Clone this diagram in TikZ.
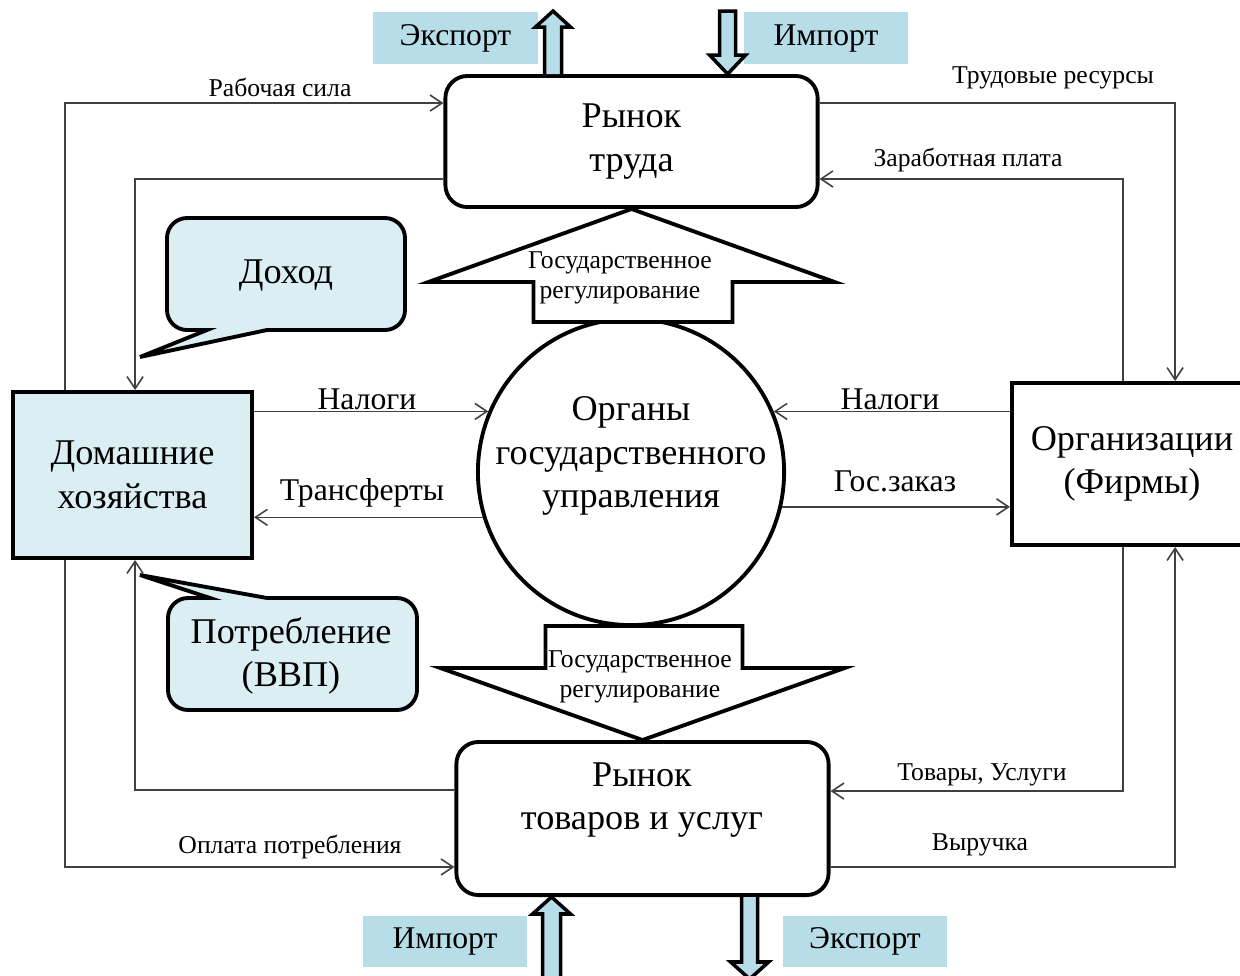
\documentclass[tikz,border=0pt]{standalone}
\usepackage{fontspec}
\setmainfont{Liberation Serif}
\usepackage{xcolor}
\definecolor{hhblue}{HTML}{DAEEF3}
\definecolor{expblue}{HTML}{B7DEE8}
\definecolor{flowgray}{HTML}{404040}
\usepackage{tikz}
\usetikzlibrary{arrows.meta}
\newcommand\bigtxt{\fontsize{10.3}{12.4}\selectfont}
\newcommand\midtxt{\fontsize{9}{10.8}\selectfont}
\newcommand\smalltxt{\fontsize{7.3}{8.5}\selectfont}

\begin{document}
\begin{tikzpicture}[x=0.01cm,y=-0.01cm,line width=1.1pt,
    bigt/.style={font=\bigtxt,align=center,inner sep=0pt},
    midt/.style={font=\midtxt,inner sep=0pt},
    smallt/.style={font=\smalltxt,inner sep=0pt},
    govt/.style={font=\smalltxt,align=center,inner sep=0pt},
    hhbox/.style={draw,fill=hhblue,minimum width=2.39cm,minimum height=1.66cm,bigt},
    firmbox/.style={draw,fill=white,minimum width=2.4cm,minimum height=1.62cm,bigt},
    market/.style={draw,fill=white,rounded corners=0.22cm,minimum width=3.72cm,bigt},
    govcirc/.style={draw,fill=white,circle,minimum size=3.06cm,inner sep=0pt},
    trade/.style={fill=expblue,minimum width=1.64cm,minimum height=0.51cm,midt},
    bigarrow/.style={draw,fill=expblue,line width=1pt},
    govarrow/.style={draw,fill=white},
    callout/.style={draw,fill=hhblue},
    flow/.style={draw=flowgray,line width=0.45pt,-{Straight Barb[length=1.2mm,width=1.6mm]}}]
  \useasboundingbox (0,0) rectangle (1240,975);

  \node[hhbox](hh) at (132.5,475) {Домашние\\хозяйства};
  \node[firmbox](firm) at (1132,464) {Организации\\(Фирмы)};
  \node[market,minimum height=1.31cm](lab) at (631.5,141.5) {Рынок\\труда};
  \node[market,minimum height=1.53cm](gm) at (642.5,818.5) {};
  \node[bigt](gmtxt) at (642,800) {Рынок\\товаров и услуг};
  \node[govcirc](gov) at (631,472) {};
  \node[bigt](govtxt) at (631,456) {Органы\\государственного\\управления};

  \draw[govarrow] (lab.south) -- ++(203,73) -- ++(-102,0) -- ++(0,40) -- ++(-199,0) -- ++(0,-40) -- ++(-105,0) -- cycle;
  \draw[govarrow] (gm.north) -- ++(-202,-72) -- ++(105,0) -- ++(0,-42) -- ++(197,0) -- ++(0,42) -- ++(102,0) -- cycle;
  \node[govt](govup) at (620,278) {Государственное\\регулирование};
  \node[govt](govdown) at (640,677) {Государственное\\регулирование};

  \node[trade](ex1) at (455.5,38) {Экспорт};
  \node[trade](im1) at (826,38) {Импорт};
  \node[trade](im2) at (445,941) {Импорт};
  \node[trade](ex2) at (865,941) {Экспорт};
  \draw[bigarrow] ([xshift=1.01cm]lab.north west) -- ++(0,-47) -- ++(-9,0) -- ++(17.5,-16) -- ++(17.5,16) -- ++(-9,0) -- ++(0,47);
  \draw[bigarrow] ([xshift=2.84cm]lab.north west) -- ++(-18,-19) -- ++(10,0) -- ++(0,-44) -- ++(16,0) -- ++(0,44) -- ++(10,0) -- cycle;
  \draw[bigarrow] ([xshift=0.97cm]gm.south west) -- ++(19,17) -- ++(-10,0) -- ++(0,70) -- ++(-18,0) -- ++(0,-70) -- ++(-10,0) -- cycle;
  \draw[bigarrow] ([xshift=2.87cm]gm.south west) -- ++(0,65) -- ++(-11,0) -- ++(19,17) -- ++(19,-17) -- ++(-11,0) -- ++(0,-65);

  \draw[callout] (267,330) [rounded corners=0.2cm] -- (405,330) -- (405,218) -- (167,218) -- (167,330) [sharp corners] -- (207,330) -- (140,357) -- cycle;
  \node[bigt](inc) at (286,275) {Доход};
  \draw[callout] (267,598) [rounded corners=0.2cm] -- (417,598) -- (417,710) -- (168,710) -- (168,598) [sharp corners] -- (210,598) -- (140,575) -- cycle;
  \node[bigt](cons) at (291,656) {Потребление\\(ВВП)};

  \draw[flow] ([xshift=0.54cm]hh.north west) |- ([yshift=-0.29cm]lab.north west);
  \draw[flow] ([yshift=0.3cm]lab.south west) -| ([xshift=1.24cm]hh.north west);
  \draw[flow] ([yshift=-0.29cm]lab.north east) -| ([xshift=1.65cm]firm.north west);
  \draw[flow] ([xshift=1.13cm]firm.north west) |- ([yshift=0.3cm]lab.south east);
  \draw[flow] (gov.157 -| hh.east) -- (gov.157);
  \draw[flow] (gov.197) -- (gov.197 -| hh.east);
  \draw[flow] (gov.23 -| firm.west) -- (gov.23);
  \draw[flow] (gov.-13) -- (gov.-13 -| firm.west);
  \draw[flow] ([yshift=-0.5cm]gm.north west) -| ([xshift=1.24cm]hh.south west);
  \draw[flow] ([xshift=0.54cm]hh.south west) |- ([yshift=0.3cm]gm.south west);
  \draw[flow] ([xshift=1.13cm]firm.south west) |- ([yshift=-0.51cm]gm.north east);
  \draw[flow] ([yshift=0.3cm]gm.south east) -| ([xshift=1.65cm]firm.south west);

  \node[smallt](lrab) at (280,87) {Рабочая сила};
  \node[smallt](ltrud) at (1053,78) {Трудовые ресурсы};
  \node[smallt](lzp) at (968,160) {Заработная плата};
  \node[midt](ltaxhh) at (367,399) {Налоги};
  \node[midt](ltransf) at (362,493) {Трансферты};
  \node[midt](ltaxfirm) at (890,399) {Налоги};
  \node[midt](lorder) at (895,481) {Гос.заказ};
  \node[smallt](lgoods) at (982,775) {Товары, Услуги};
  \node[smallt](lrev) at (980,845) {Выручка};
  \node[smallt](lpay) at (290,847) {Оплата потребления};
\end{tikzpicture}
\end{document}
